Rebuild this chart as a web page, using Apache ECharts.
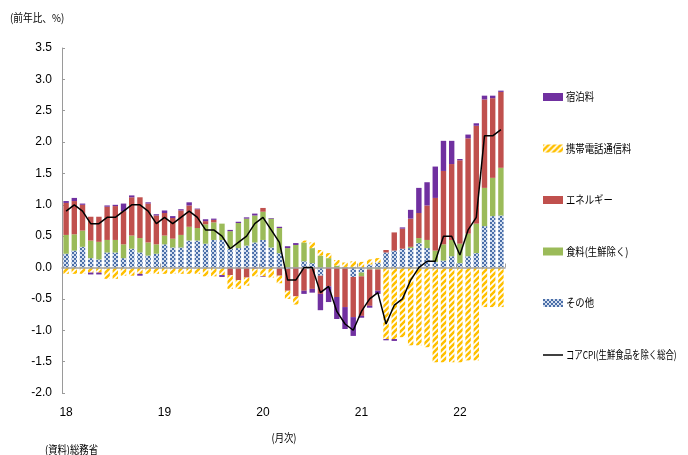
<!DOCTYPE html>
<html><head><meta charset="utf-8">
<script src="https://cdn.jsdelivr.net/npm/echarts@6/dist/echarts.min.js"></script>
<style>html,body{margin:0;padding:0;background:#fff}#c{width:688px;height:455px}</style>
</head><body><div id="c"></div>
<script>
// Months: 2018/1 .. 2022/6
const months = [
 '18/1','18/2','18/3','18/4','18/5','18/6','18/7','18/8','18/9','18/10','18/11','18/12',
 '19/1','19/2','19/3','19/4','19/5','19/6','19/7','19/8','19/9','19/10','19/11','19/12',
 '20/1','20/2','20/3','20/4','20/5','20/6','20/7','20/8','20/9','20/10','20/11','20/12',
 '21/1','21/2','21/3','21/4','21/5','21/6','21/7','21/8','21/9','21/10','21/11','21/12',
 '22/1','22/2','22/3','22/4','22/5','22/6'];

// その他
const other = [
 0.22,0.27,0.33,0.15,0.13,0.24,0.24,0.15,0.30,0.24,0.19,0.22,
 0.37,0.32,0.32,0.43,0.43,0.38,0.44,0.44,0.30,0.31,0.35,0.40,
 0.44,0.32,0.23,-0.02,0.00,0.10,0.07,-0.13,0.00,0.00,0.00,-0.15,
 -0.08,0.05,0.08,0.24,0.27,0.30,0.31,0.39,0.31,0.09,0.11,0.18,
 0.07,0.18,0.23,0.66,0.82,0.83];
// 食料(生鮮除く)
const food = [
 0.30,0.26,0.26,0.28,0.28,0.20,0.20,0.22,0.21,0.23,0.21,0.15,
 0.14,0.14,0.20,0.22,0.20,0.31,0.28,0.26,0.28,0.40,0.43,0.43,
 0.45,0.46,0.40,0.31,0.36,0.30,0.24,0.19,0.15,0.03,0.01,0.01,
 -0.06,-0.03,-0.03,0.00,0.00,0.00,0.02,0.08,0.13,0.18,0.26,0.26,
 0.31,0.36,0.47,0.61,0.61,0.76];
// エネルギー
const energy = [
 0.51,0.53,0.41,0.38,0.40,0.53,0.54,0.53,0.61,0.65,0.62,0.46,
 0.36,0.33,0.39,0.34,0.30,0.05,0.04,0.00,-0.12,-0.20,-0.16,-0.02,
 0.06,0.00,-0.13,-0.35,-0.46,-0.37,-0.34,-0.29,-0.30,-0.47,-0.63,-0.64,
 -0.63,-0.58,-0.34,0.04,0.29,0.32,0.45,0.40,0.55,0.84,1.17,1.21,
 1.33,1.52,1.56,1.41,1.27,1.21];
// 携帯電話通信料
const mobile = [
 -0.10,-0.10,-0.10,-0.08,-0.08,-0.18,-0.18,-0.13,-0.13,-0.10,-0.10,-0.10,
 -0.10,-0.10,-0.10,-0.10,-0.10,-0.14,-0.14,-0.12,-0.22,-0.14,-0.13,-0.12,
 -0.14,-0.16,-0.12,-0.13,-0.13,0.03,0.09,0.09,0.08,0.09,0.07,0.09,
 0.09,0.08,0.07,-1.14,-1.14,-1.11,-1.24,-1.24,-1.27,-1.51,-1.51,-1.51,
 -1.51,-1.48,-1.48,-0.63,-0.63,-0.63];
// 宿泊料
const hotel = [
 0.03,0.05,0.02,-0.03,-0.03,0.02,0.02,0.12,0.03,-0.03,0.02,0.02,
 0.04,0.03,0.02,0.05,0.01,0.03,0.02,-0.03,0.02,0.02,0.02,0.03,
 -0.01,0.01,0.02,0.03,0.03,-0.05,-0.06,-0.26,-0.25,-0.35,-0.35,-0.30,
 -0.03,-0.03,-0.05,-0.02,-0.03,0.02,0.14,0.40,0.37,0.50,0.48,0.37,
 0.02,0.06,0.04,0.06,0.04,0.02];
// コアCPI(生鮮食品を除く総合)
const coreCPI = [
 0.9,1.0,0.9,0.7,0.7,0.8,0.8,0.9,1.0,1.0,0.9,0.7,
 0.8,0.7,0.8,0.9,0.8,0.6,0.6,0.5,0.3,0.4,0.5,0.7,
 0.8,0.6,0.4,-0.2,-0.2,0.0,0.0,-0.4,-0.3,-0.7,-0.9,-1.0,
 -0.7,-0.5,-0.4,-0.9,-0.6,-0.5,-0.2,0.0,0.1,0.1,0.5,0.5,
 0.2,0.6,0.8,2.1,2.1,2.2];

const names = ['宿泊料','携帯電話通信料','エネルギー','食料(生鮮除く)','その他','コアCPI(生鮮食品を除く総合)'];

function hatchPattern(){
  const c = document.createElement('canvas'); c.width = 6; c.height = 6;
  const g = c.getContext('2d');
  g.fillStyle = '#ffffff'; g.fillRect(0,0,6,6);
  g.strokeStyle = '#FFC000'; g.lineWidth = 2.6; g.lineCap = 'square';
  g.beginPath();
  g.moveTo(-1,7); g.lineTo(7,-1);
  g.moveTo(-4,4); g.lineTo(4,-4);
  g.moveTo(2,10); g.lineTo(10,2);
  g.stroke();
  return c;
}
function checkPattern(){
  const c = document.createElement('canvas'); c.width = 4; c.height = 4;
  const g = c.getContext('2d');
  g.fillStyle = '#d5dfef'; g.fillRect(0,0,4,4);
  g.fillStyle = '#4a6ea8';
  g.fillRect(0,0,2,2); g.fillRect(2,2,2,2);
  return c;
}
const hatch = {image: hatchPattern(), repeat: 'repeat'};
const check = {image: checkPattern(), repeat: 'repeat'};

const chart = echarts.init(document.getElementById('c'), null, {renderer:'canvas'});
const numFont = '"Liberation Sans Narrow","Arial Narrow","Liberation Sans",sans-serif';
const jpFont = '"Noto Sans CJK JP",sans-serif';

function txt(text, x, y, sx, align){
  return {type:'text', x:x, y:y, scaleX:sx, scaleY:1, z:10,
    style:{text:text, fill:'#000', font:'11px ' + jpFont, align:align||'left', verticalAlign:'middle'}};
}
const legendY = [97, 148.5, 200, 251.5, 303, 355];

const barBase = {type:'bar', stack:'total', barWidth:'66%', xAxisIndex:0, yAxisIndex:0, z:2};

chart.setOption({
  animation:false,
  backgroundColor:'#ffffff',
  grid:{left:62, right:183, top:48, bottom:62, containLabel:false},
  legend: names.map((n,i)=>({
    data:[ i<5 ? {name:n, icon:'rect'} : {name:n, icon:'rect', itemStyle:{color:'#000'}} ],
    left:543, top: i<5 ? legendY[i]-4 : legendY[i]-0.75, padding:0,
    itemWidth:20, itemHeight: i<5 ? 8 : 1.5,
    formatter:()=> '', textStyle:{fontSize:8}, selectedMode:false
  })),
  xAxis:[
    {type:'category', data:months, position:'bottom',
     axisLine:{show:false, onZero:false}, axisTick:{show:false}, splitLine:{show:false},
     axisLabel:{interval:(i)=> i%12===0, formatter:(v)=> v.split('/')[0], margin:14,
       color:'#000', fontSize:12, fontFamily:numFont}},
    {type:'category', data:months, position:'top', z:5,
     axisLine:{show:true, onZero:true, lineStyle:{color:'#a0a0a0', width:1.5}},
     axisTick:{show:true, inside:false, length:4, interval:(i)=> i%12===0, lineStyle:{color:'#a0a0a0'}},
     axisLabel:{show:false}, splitLine:{show:false}}
  ],
  yAxis:{type:'value', min:-2, max:3.5, interval:0.5,
    axisLine:{show:true, lineStyle:{color:'#9a9a9a', width:1}},
    axisTick:{show:true, inside:true, length:3, lineStyle:{color:'#9a9a9a'}},
    splitLine:{show:false},
    axisLabel:{formatter:(v)=> v.toFixed(1), color:'#000', fontSize:12, fontFamily:numFont, margin:10}},
  series:[
    Object.assign({}, barBase, {name:'その他', data:other, itemStyle:{color:check}}),
    Object.assign({}, barBase, {name:'食料(生鮮除く)', data:food, itemStyle:{color:'#9BBB59'}}),
    Object.assign({}, barBase, {name:'エネルギー', data:energy, itemStyle:{color:'#C0504D'}}),
    Object.assign({}, barBase, {name:'携帯電話通信料', data:mobile, itemStyle:{color:hatch}}),
    Object.assign({}, barBase, {name:'宿泊料', data:hotel, itemStyle:{color:'#7030A0'}}),
    {type:'line', name:'コアCPI(生鮮食品を除く総合)', data:coreCPI, symbol:'none', z:6,
     xAxisIndex:0, yAxisIndex:0,
     lineStyle:{color:'#000000', width:1.5}, itemStyle:{color:'#000000'}}
  ],
  graphic: names.map((n,i)=> txt(n, 566, legendY[i], i===5 ? 0.76 : 0.85)).concat([
    txt('(前年比、%)', 10, 18, 0.88),
    txt('(月次)', 284, 438, 0.85, 'center'),
    txt('(資料)総務省', 45, 450, 0.85)
  ])
});
</script>
</body></html>
